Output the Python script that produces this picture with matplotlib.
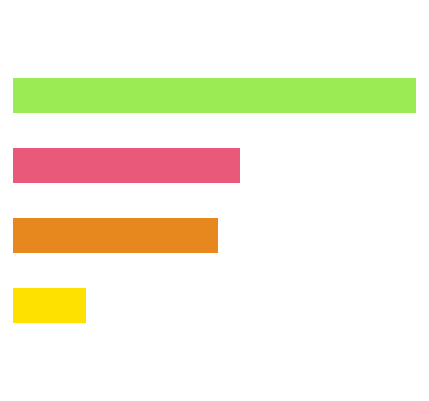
import matplotlib
matplotlib.use("Agg")
import matplotlib.pyplot as plt

categories = ["A", "B", "C", "D"]
values = [55, 31, 28, 10]
colors = ["#9beb55", "#e95a7a", "#e6881e", "#ffe100"]

fig = plt.figure(figsize=(4.29, 4.02), dpi=100)
# axes placed so the plot area runs 13px..416px wide, 61px..341px tall
ax = fig.add_axes([13 / 429, (402 - 341.2) / 402, 403 / 429, 280 / 402])

pos = list(range(len(categories)))
ax.barh(pos, values, height=0.5, color=colors, edgecolor="none")
ax.set_xlim(0, max(values))
ax.set_ylim(len(categories) - 0.5, -0.5)
ax.axis("off")

fig.savefig("out.png", dpi=100)
